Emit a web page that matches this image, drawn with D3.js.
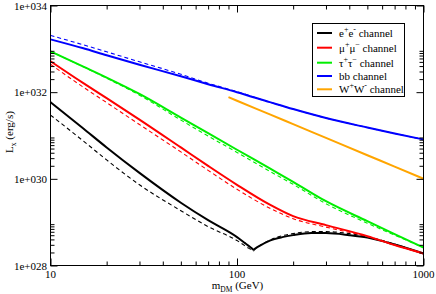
<!DOCTYPE html>
<html><head><meta charset="utf-8">
<script src="https://cdn.jsdelivr.net/npm/d3@7"></script>
<style>body{margin:0;background:#fff}svg{display:block}text{font-family:"Liberation Serif","DejaVu Serif",serif}</style>
</head><body>
<svg id="c" width="436" height="294"></svg>
<script>
// ---- data (L_x in erg/s vs m_DM in GeV) ----
const massBlack = [10,15,20,30,50,70,100,110,115,120,122,125,130,150,175,200,250,300,400,500,700,1000];
const eeSolid  = [5.89e31,1.45e31,5.30e30,1.37e30,2.81e29,1.11e29,4.52e28,3.33e28,2.88e28,2.49e28,2.33e28,2.46e28,2.73e28,3.76e28,4.52e28,5.02e28,5.59e28,5.59e28,5.02e28,4.40e28,3.04e28,1.89e28];
const eeDashed = [2.96e31,7.47e30,2.73e30,7.28e29,1.84e29,7.88e28,3.76e28,2.88e28,2.53e28,2.27e28,2.15e28,2.39e28,2.73e28,3.86e28,4.89e28,5.44e28,6.05e28,6.05e28,5.44e28,4.64e28,3.12e28,1.89e28];
const mass = [10,15,20,30,50,70,100,150,200,300,500,700,1000];
const mumuSolid  = [5.16e32,1.61e32,7.28e31,2.33e31,5.30e30,1.99e30,7.28e29,2.53e29,1.374e29,8.53e28,4.77e28,2.96e28,1.89e28];
const mumuDashed = [4.40e32,1.303e32,5.74e31,1.79e31,4.18e30,1.57e30,5.74e29,2.10e29,1.204e29,7.68e28,4.64e28,2.96e28,1.89e28];
const tautauSolid  = [8.76e32,3.88e32,2.17e32,9.09e31,2.59e31,1.129e31,4.69e30,1.734e30,8.53e29,3.04e29,1.054e29,5.30e28,2.59e28];
const tautauDashed = [8.76e32,3.84e32,2.10e32,8.53e31,2.27e31,9.74e30,4.07e30,1.487e30,7.47e29,2.66e29,9.48e28,5.02e28,2.59e28];
const bbSolid  = [1.654e33,1.027e33,7.09e32,4.29e32,2.33e32,1.527e32,1.00e32,5.89e31,4.07e31,2.53e31,1.527e31,1.112e31,8.09e30];
const bbDashed = [2.04e33,1.236e33,8.53e32,5.02e32,2.59e32,1.61e32,1.027e32,5.89e31,4.07e31,2.53e31,1.527e31,1.112e31,8.09e30];
const massWW = [90,100,150,200,300,500,700,1000];
const wwSolid = [7.68e31,6.34e31,3.07e31,1.829e31,8.81e30,3.51e30,1.908e30,1.005e30];
const xTicks = [10,100,1000];
const yTicks = [1e28,1e30,1e32,1e34];
const yTickLabels = ["1e+028","1e+030","1e+032","1e+034"];
const legendNames = [["e","+","e","-"," channel"],["\u03bc","+","\u03bc","\u2212"," channel"],["\u03c4","+","\u03c4","\u2212"," channel"],["bb channel"],["W","+","W","-"," channel"]];
const colors = ["#000000","#ff0000","#00ee00","#0000ff","#ffa500"];

// ---- layout ----
const L = 50.5, R = 423.5, T = 5.5, B = 265.5;
const svg = d3.select("#c");
const x = d3.scaleLog().domain([10,1000]).range([L,R]);
const y = d3.scaleLog().domain([1e28,1e34]).range([B,T]);

const series = [
  {m: massBlack, v: eeSolid, c: colors[0], w: 2, dash: null},
  {m: massBlack, v: eeDashed, c: colors[0], w: 1.1, dash: "4,3"},
  {m: mass, v: mumuSolid, c: colors[1], w: 2, dash: null},
  {m: mass, v: mumuDashed, c: colors[1], w: 1.1, dash: "4,3"},
  {m: mass, v: tautauSolid, c: colors[2], w: 2, dash: null},
  {m: mass, v: tautauDashed, c: colors[2], w: 1.1, dash: "4,3"},
  {m: mass, v: bbSolid, c: colors[3], w: 2, dash: null},
  {m: mass, v: bbDashed, c: colors[3], w: 1.1, dash: "4,3"},
  {m: massWW, v: wwSolid, c: colors[4], w: 2, dash: null}
];
const line = d3.line().x(d=>x(d[0])).y(d=>y(d[1])).curve(d3.curveMonotoneX);
const g = svg.append("g");
series.forEach(s=>{
  g.append("path").attr("d", line(s.m.map((m,i)=>[m,s.v[i]])))
   .attr("fill","none").attr("stroke",s.c).attr("stroke-width",s.w)
   .attr("stroke-dasharray",s.dash);
});

// ---- axes ----
const xMinor = [], yMinor = [];
[10,100].forEach(d=>{for(let k=2;k<=9;k++) xMinor.push(d*k);});
[1e28,1e30,1e32].forEach(d=>{for(let k=2;k<=9;k++) yMinor.push(d*k);});
function axisSet(gen, tv, len){ return gen.tickValues(tv).tickSize(len).tickSizeOuter(0).tickFormat(""); }
// bottom
svg.append("g").attr("transform",`translate(0,${B})`).call(axisSet(d3.axisTop(x), xMinor, 4));
svg.append("g").attr("transform",`translate(0,${B})`).call(axisSet(d3.axisTop(x), xTicks, 7));
// top
svg.append("g").attr("transform",`translate(0,${T})`).call(axisSet(d3.axisBottom(x), xMinor, 4));
svg.append("g").attr("transform",`translate(0,${T})`).call(axisSet(d3.axisBottom(x), xTicks, 7));
// left
svg.append("g").attr("transform",`translate(${L},0)`).call(axisSet(d3.axisRight(y), yMinor, 4));
svg.append("g").attr("transform",`translate(${L},0)`).call(axisSet(d3.axisRight(y), yTicks, 7));
// right
svg.append("g").attr("transform",`translate(${R},0)`).call(axisSet(d3.axisLeft(y), yMinor, 4));
svg.append("g").attr("transform",`translate(${R},0)`).call(axisSet(d3.axisLeft(y), yTicks, 7));
svg.selectAll(".domain").remove();
svg.selectAll(".tick line").attr("stroke","#000").attr("stroke-width",1);
// frame
svg.append("rect").attr("x",L).attr("y",T).attr("width",R-L).attr("height",B-T)
  .attr("fill","none").attr("stroke","#000").attr("stroke-width",1);

// tick labels
svg.append("g").selectAll("text").data(xTicks).join("text")
  .attr("x",d=>x(d)).attr("y",278).attr("text-anchor","middle")
  .attr("font-size",11).text(d=>String(d));
svg.append("g").selectAll("text").data(yTicks).join("text")
  .attr("x",47).attr("y",d=>y(d)+4).attr("text-anchor","end")
  .attr("font-size",11).text((d,i)=>yTickLabels[i]);

// axis titles
const xt = svg.append("text").attr("x",237.5).attr("y",289).attr("text-anchor","middle").attr("font-size",11);
xt.append("tspan").text("m");
xt.append("tspan").attr("font-size",7.5).attr("dy",3).text("DM");
xt.append("tspan").attr("dy",-3).text(" (GeV)");
const yt = svg.append("text").attr("transform","translate(13,132) rotate(-90)").attr("text-anchor","middle").attr("font-size",11);
yt.append("tspan").text("L");
yt.append("tspan").attr("font-size",7.5).attr("dy",3).text("x");
yt.append("tspan").attr("dy",-3).text(" (erg/s)");

// legend
const lg = svg.append("g");
lg.append("rect").attr("x",312.5).attr("y",23.5).attr("width",92).attr("height",73)
  .attr("fill","#fff").attr("stroke","#000").attr("stroke-width",1);
const rowsY = [33,47.7,62.7,76,89.3];
legendNames.forEach((parts,i)=>{
  lg.append("line").attr("x1",317).attr("x2",332).attr("y1",rowsY[i]).attr("y2",rowsY[i])
    .attr("stroke",colors[i]).attr("stroke-width",2);
  const t = lg.append("text").attr("x",339).attr("y",rowsY[i]+4).attr("font-size",11);
  if(parts.length===1){ t.text(parts[0]); return; }
  t.append("tspan").text(parts[0]);
  t.append("tspan").attr("font-size",8).attr("dy",-5).text(parts[1]);
  t.append("tspan").attr("dy",5).text(parts[2]);
  t.append("tspan").attr("font-size",8).attr("dy",-5).text(parts[3]);
  t.append("tspan").attr("dy",5).text(parts[4]);
});
</script>
</body></html>
